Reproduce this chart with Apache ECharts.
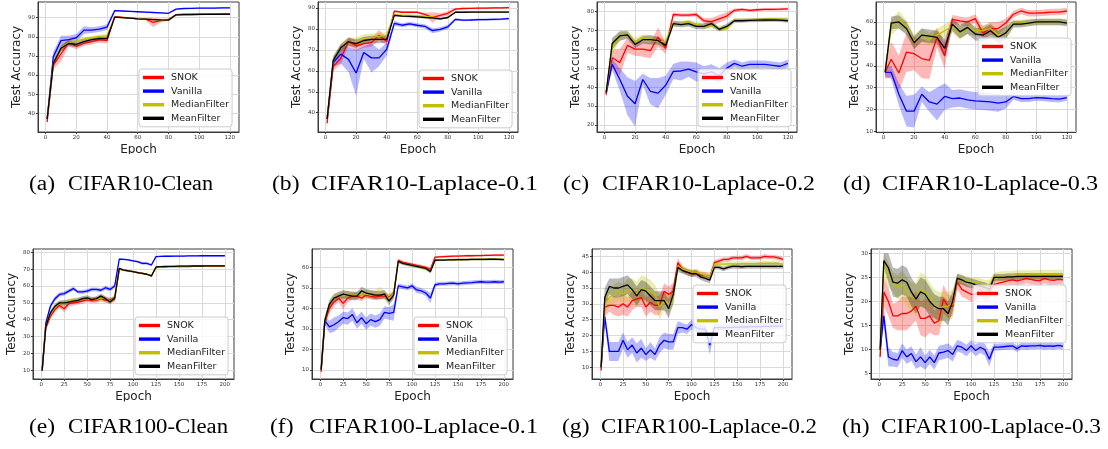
<!DOCTYPE html>
<html><head><meta charset="utf-8">
<script src="https://cdn.jsdelivr.net/npm/echarts@6/dist/echarts.min.js"></script>
<style>html,body{margin:0;padding:0;background:#fff}#c{width:1108px;height:449px}</style>
</head><body><div id="c"></div>
<script>
// ---------- epochs / tick labels ----------
const EP10 = [1,5,10,15,20,25,30,35,40,45,50,55,60,65,70,75,80,85,90,95,100,105,110,115,120];
const EP100 = [1,5,10,15,20,25,30,35,40,45,50,55,60,65,70,75,80,85,90,95,100,105,110,115,120,125,130,135,140,145,150,155,160,165,170,175,180,185,190,195,200];
const X10_TICKS = [0,20,40,60,80,100,120];
const X100_TICKS = [0,25,50,75,100,125,150,175,200];
const A_YTICKS = [40,50,60,70,80,90];
const B_YTICKS = [40,50,60,70,80,90];
const C_YTICKS = [20,30,40,50,60,70,80];
const D_YTICKS = [10,20,30,40,50,60];
const E_YTICKS = [10,20,30,40,50,60,70,80];
const F_YTICKS = [10,20,30,40,50,60];
const G_YTICKS = [10,15,20,25,30,35,40,45];
const H_YTICKS = [5,10,15,20,25,30];

const METHODS = ['SNOK','Vanilla','MedianFilter','MeanFilter'];
const CAPTIONS = [['(a)','CIFAR10-Clean'],['(b)','CIFAR10-Laplace-0.1'],['(c)','CIFAR10-Laplace-0.2'],['(d)','CIFAR10-Laplace-0.3'],
                  ['(e)','CIFAR100-Clean'],['(f)','CIFAR100-Laplace-0.1'],['(g)','CIFAR100-Laplace-0.2'],['(h)','CIFAR100-Laplace-0.3']];

// ---------- (a) CIFAR10-Clean ----------
const a_snok    = [35.5,65,71,77,75,76.5,77.5,78.5,78,90.5,90.2,89.8,89.5,89.3,87.5,88.5,89,91.6,91.8,91.9,91.9,92,92,92,92];
const a_snok_sd = [2,2,4,2,1.5,1.2,1.5,1.5,1.5,0.5,0.4,0.4,0.4,0.5,2.5,1,0.6,0.3,0.3,0.3,0.3,0.3,0.3,0.3,0.3];
const a_van     = [37,69.5,78,78.5,79.5,83.5,83.5,84,85,93.7,93.5,93.3,93.1,92.9,92.7,92.5,92.3,94.5,94.8,94.9,95,95,95,95.1,95.1];
const a_van_sd  = [2,2.5,2.5,2,2,2,1.5,1.5,1.5,0.4,0.3,0.3,0.3,0.3,0.3,0.3,0.3,0.3,0.3,0.3,0.3,0.3,0.3,0.3,0.3];
const a_med     = [37,66,74,77,78,78.8,79.5,80.2,80.5,90.3,90,89.8,89.5,89.3,89,88.8,88.6,91.4,91.5,91.6,91.6,91.7,91.7,91.8,91.8];
const a_med_sd  = [1.5,1.5,1.5,1.2,1,1,1,1,1,0.4,0.3,0.3,0.3,0.3,0.3,0.3,0.3,0.3,0.3,0.3,0.3,0.3,0.3,0.3,0.3];
const a_mean    = [37,66,74,76.5,76,77.5,78.5,79,79,90.3,90,89.8,89.4,89.2,89,88.8,88.7,91.5,91.6,91.6,91.7,91.7,91.7,91.8,91.8];
const a_mean_sd = [1.5,1.5,1.5,1.5,1.5,1.2,1.2,1.2,1.2,0.4,0.3,0.3,0.3,0.3,0.3,0.3,0.3,0.3,0.3,0.3,0.3,0.3,0.3,0.3,0.3];

// ---------- (b) CIFAR10-Laplace-0.1 ----------
const b_snok    = [35,62,66,74,72,73,73.5,77,74,88.5,88,88,88,87,85.5,86.5,87.5,89.5,89.8,89.9,90,90,90.1,90.1,90.2];
const b_snok_sd = [2,2,3,2,2.5,2,2,2.5,2,0.6,0.5,0.5,0.5,0.8,2.5,1,1,0.5,0.4,0.4,0.4,0.4,0.4,0.4,0.4];
const b_van     = [37,64,68,65.5,59,68.8,66.2,66.2,70.3,82.7,81.8,82.5,81.8,81.3,79.2,79.8,81,84.6,84.2,84.3,84.5,84.5,84.6,84.7,85];
const b_van_sd  = [2,2,4.5,6,11,3,7,4,3,1.2,1,1,1,1,1.2,1,1,0.6,0.5,0.5,0.5,0.5,0.5,0.5,0.5];
const b_med     = [37,65,71,74,74,75.5,76,76.5,77,87,86.5,86.5,86.3,86,85.8,85,85.5,88,88.1,88.2,88.2,88.2,88.2,88.2,88.2];
const b_med_sd  = [1.5,2,2,2,2,2,1.8,1.8,1.5,0.5,0.5,0.5,0.5,0.5,0.5,0.5,0.5,0.4,0.3,0.3,0.3,0.3,0.3,0.3,0.3];
const b_mean    = [37,65,71,74,73,74.5,75,75,75,86.5,86.2,86,85.8,85.5,85.3,84.8,85.5,88,88,88.1,88.1,88.1,88.1,88.1,88.1];
const b_mean_sd = [1.5,2,2,2,2,1.8,1.8,1.8,1.5,0.5,0.5,0.5,0.5,0.5,0.5,0.5,0.5,0.4,0.3,0.3,0.3,0.3,0.3,0.3,0.3];

// ---------- (c) CIFAR10-Laplace-0.2 ----------
const c_snok    = [36,55.5,53,62,60,60,59.2,66.4,60.4,78.3,78,78,78.3,75,74.5,76,77.5,80.5,81,80.5,80.8,81,81,81.1,81.3];
const c_snok_sd = [2,4,7,4,3.5,4,4,5,3,1,1,1,1,1.5,2,2,2,1,0.7,0.7,0.7,0.7,0.7,0.7,0.7];
const c_van     = [37,52,44,35.2,31.2,44,37.8,36.8,41,48.3,48.5,49.5,48,47,48,46,50,52.5,51,52,52,52,51.5,51,52.5];
const c_van_sd  = [2,3,6,10,12,3,7,8,5,4,5,4,5,4,4,4,3,2,2,2,2,2,2,2,2];
const c_med     = [37,61,67,68,64,66,65,64,64,73.5,73.5,74,73,72,72.5,71,71,75.5,75.5,75.5,75.5,75.8,76,75.8,75.8];
const c_med_sd  = [1.5,4,2.5,2,2,2,2,2,2,1.5,1.5,1.5,1.5,1.5,1.5,1.5,1.5,1,1,1,1,1,1,1,1];
const c_mean    = [37,63,67,67.5,62.5,65,65,64.5,62,73.5,73,73.5,72,72,73.5,70.5,72,75,75,75.2,75.3,75.4,75.5,75.3,75];
const c_mean_sd = [1.5,3,2.5,2,2,2,2.5,2,2,1.5,1.5,1.5,1.5,1.5,1.5,1,1.5,1,1,1,1,1,1,1,1];

// ---------- (d) CIFAR10-Laplace-0.3 ----------
const d_snok    = [37,43,36.7,46.2,45.5,43.3,42.5,53,44.5,61.2,60.5,60,61.5,55,57,57,59.5,63.5,65,64,64,64.2,64.5,64.5,65];
const d_snok_sd = [3,8,8,9,7.5,9,8.5,4.5,6,2,2,2,2,3,3,3,2,1.5,1.5,1.5,1.5,1.5,1.5,1.5,1.5];
const d_van     = [37,37,27,19.3,19.3,27,23.5,22.5,26,25,25.3,24.5,24,23.8,23.5,23,23.5,26,25,25,25.5,25.3,25,24.8,25.5];
const d_van_sd  = [2,3,5,7,7.5,3.5,4.5,7.5,6,4,4,4,4,4,4,4,3,1.5,1.5,1.5,1.5,1.5,1.5,1.5,1.5];
const d_med     = [37,57.5,61,58,51,54,52,54,56,58,55,57,56,56,57,54,55,59.5,59.5,60,60,60,60,60,60];
const d_med_sd  = [2,3.5,4,3,3,3,3,3,3,3,3,2.5,2.5,2.5,2.5,2.5,2.5,1.5,1.5,1.5,1.5,1.5,1.5,1.5,1.5];
const d_mean    = [37,59.5,60,57,50.5,54,53.5,53,48,59,55.5,57.5,54.5,54,56,53,55,59,59,59.5,60,60,60,60,59.5];
const d_mean_sd = [2,3,3,3,3,3,3,3,4,3,3,3,3,3,3,3,3,1.5,1.5,1.5,1.5,1.5,1.5,1.5,1.5];

// ---------- (e) CIFAR100-Clean ----------
const e_snok    = [9.5,35,42,46,48.5,46.5,49.5,50,50.5,51,52,51.5,51.5,52.5,51.5,52,52,70,69.5,69,68.5,68,67.5,67,66,71,71.3,71.4,71.5,71.5,71.6,71.6,71.6,71.7,71.7,71.7,71.7,71.8,71.8,71.8,71.8];
const e_snok_sd = [1,1.5,1.5,1.5,1.5,2,1.5,1.5,1.5,1.5,1.5,1.5,1.5,1.5,1.5,1.5,1.5,0.5,0.5,0.5,0.5,0.5,0.5,0.5,0.6,0.4,0.4,0.4,0.4,0.4,0.4,0.4,0.4,0.4,0.4,0.4,0.4,0.4,0.4,0.4,0.4];
const e_van     = [10,38,48,52.5,55,55.5,57,58.5,56.5,56.5,57,58,58,57.5,59,58,60,76,75.8,75.5,75,74.5,73.5,73.5,72.5,77.5,77.6,77.7,77.7,77.8,77.8,77.8,77.9,77.9,77.9,78,78,78,78,78,78];
const e_van_sd  = [1,1.5,1.5,1.5,1.2,1.2,1.2,1.2,1,1.2,1.2,1.2,1.2,1.2,1.2,1.2,1.2,0.5,0.5,0.5,0.5,0.6,0.8,0.8,0.8,0.4,0.4,0.4,0.4,0.4,0.4,0.4,0.4,0.4,0.4,0.4,0.4,0.4,0.4,0.4,0.4];
const e_med     = [10,36,43.5,47.5,49.5,50,51,51.5,51.5,52.5,52.5,52,52,53,52.5,51,53,70,69.5,69,68.5,68,67.5,67,66,71,71.3,71.5,71.5,71.6,71.7,71.7,71.8,71.8,71.8,71.9,71.9,72,72,72,72];
const e_med_sd  = [1,1.5,1.5,1.5,1.5,1.5,1.5,1.5,1.5,1.5,1.5,1.5,1.5,2,1.5,1.5,1.5,0.5,0.5,0.5,0.5,0.5,0.5,0.5,0.6,0.4,0.4,0.4,0.4,0.4,0.4,0.4,0.4,0.4,0.4,0.4,0.4,0.4,0.4,0.4,0.4];
const e_mean    = [10,36,44,48,50,50,50.5,51,51.5,52.5,53,52,52.5,54,52.5,50.5,53,70.5,69.5,69,68.5,68,67.5,67,66,71.3,71.5,71.6,71.7,71.7,71.8,71.8,71.8,71.9,71.9,71.9,72,72,72,72,72];
const e_mean_sd = [1,1.5,1.5,1.5,1.5,1.5,1.5,1.5,1.5,1.5,1.5,1.5,1.5,1.5,1.5,1.5,1.5,0.5,0.5,0.5,0.5,0.5,0.5,0.5,0.6,0.4,0.4,0.4,0.4,0.4,0.4,0.4,0.4,0.4,0.4,0.4,0.4,0.4,0.4,0.4,0.4];

// ---------- (f) CIFAR100-Laplace-0.1 ----------
const f_snok    = [9,33,40,43,45,42.5,45,46,46,45,46.5,46,45.5,46,46,45.5,47,63.5,62.5,62,61.5,61,60.5,60,59,65,65.2,65.3,65.4,65.5,65.5,65.6,65.7,65.7,65.8,65.8,65.9,65.9,66,66,66];
const f_snok_sd = [1,2,2.5,2,2,3,2,1.5,1.5,1.5,1.5,1.5,1.5,1.5,1.5,1.5,1.5,0.8,0.8,0.8,0.8,0.8,0.8,0.8,1,0.5,0.5,0.5,0.5,0.5,0.5,0.5,0.5,0.5,0.5,0.5,0.5,0.5,0.5,0.5,0.5];
const f_van     = [10,34,31,32,33.5,35.5,35,37,33,35.5,32.5,34.5,33.5,34.5,38,37.5,38,51,50.5,50,51,49,48.5,47.5,45,51.5,52,52,52.2,52.3,52,52.3,52.5,52.6,52.8,53,52.8,52.8,53,52.8,53];
const f_van_sd  = [1,2,3,3.5,3,3,3,3,3,3,3,3,3,3,3,3,4,1.2,1.2,1.2,1.2,1.5,1.5,1.5,2.5,1,1,1,1,1,1,1,1,1,1,1,1,1,1,1,1];
const f_med     = [10,34,42,45,46,46.5,46.5,46.5,46.5,47,47,46.5,47,47.5,46.5,45,47,63,62,61.5,61,60.5,60,59.5,58,63.5,63.6,63.7,63.7,63.8,63.8,63.8,63.9,63.9,63.9,64,64,64,64,64,64];
const f_med_sd  = [1,2,2,2,2,2,2,2,2,2,2,2,2,3,2,2,2,0.8,0.8,0.8,0.8,0.8,0.8,0.8,1,0.5,0.5,0.5,0.5,0.5,0.5,0.5,0.5,0.5,0.5,0.5,0.5,0.5,0.5,0.5,0.5];
const f_mean    = [10,34,42,45,46,47,46.5,46,46,48.5,47.5,47,46.5,46.5,47,43.5,46.5,63,62,61.5,61,60.5,60,59.5,58,63.5,63.6,63.6,63.7,63.7,63.8,63.8,63.8,63.9,63.9,63.9,63.9,64,64,63.9,63.8];
const f_mean_sd = [1,2,2,2,2,2,2,2,2,2,2,2,2,2,2,2,2,0.8,0.8,0.8,0.8,0.8,0.8,0.8,1,0.5,0.5,0.5,0.5,0.5,0.5,0.5,0.5,0.5,0.5,0.5,0.5,0.5,0.5,0.5,0.5];

// ---------- (g) CIFAR100-Laplace-0.2 ----------
const g_snok    = [9,29,29.5,29.5,29,30,29,31,31.5,32,29,30.5,29.5,29.5,34,33,34,43,41,40,39.5,40,39,39,38.5,43,43.5,44,44,44.5,44.5,44.5,45,44.5,44.5,44.5,45,44.8,44.8,44.5,44];
const g_snok_sd = [1,3,2,3,3,3.5,3,3,2.5,3,3,3,3,3,2.5,2.5,2.5,1.5,1,1,1,1,1,1,1,0.8,0.7,0.7,0.7,0.7,0.7,0.7,0.7,0.7,0.7,0.7,0.7,0.7,0.7,0.7,0.7];
const g_van     = [10,26,15,15,15,18.5,15.5,17,14.5,16,14,15.5,14,17,18.5,18,18,22.5,22.5,22,23.5,22.5,22,22,17,22.5,22.5,22.5,22.5,22.6,22.6,22.7,22.7,22.8,22.8,22.8,22.9,22.9,23,23,23];
const g_van_sd  = [1,2,3,3,3,2.5,2.5,2.5,3,3,2,2.5,2,2.5,2.5,2.5,2.5,2,1.5,1.5,1.5,1.5,1.5,1.5,3,1,1,1,1,1,1,1,1,1,1,1,1,1,1,1,1];
const g_med     = [10,30,32,33,34,33,34.5,34,33,35,34.5,33.5,33,29,31,30,32,42,41,40.5,40,40,39.5,39,38.5,42.5,42.5,42.5,42.6,42.6,42.6,42.7,42.7,42.7,42.7,42.8,42.8,42.8,42.8,42.8,42.5];
const g_med_sd  = [1,3,3,3,3,3,3.5,4,4,4,4,4,3,4,3,3,2.5,1.5,1,1,1,1,1,1,1,0.8,0.8,0.8,0.8,0.8,0.8,0.8,0.8,0.8,0.8,0.8,0.8,0.8,0.8,0.8,0.8];
const g_mean    = [10,32,35.5,35,35,35.5,36,34.5,32.5,34.5,34,32.5,31,31,31,28.5,33,41.5,40.5,40,39.5,39.5,38.5,38,37.5,41.5,41.5,41,41.5,41.8,41.8,41.7,41.8,41.8,41.8,41.8,41.8,41.8,41.8,41.8,41.8];
const g_mean_sd = [1,3,2.5,3,3,3,3,3,3,3,3,3,3,3,3,3,3,1.2,1,1,1,1,1,1,1,0.7,0.7,0.7,0.7,0.7,0.7,0.7,0.7,0.7,0.7,0.7,0.7,0.7,0.7,0.7,0.7];

// ---------- (h) CIFAR100-Laplace-0.3 ----------
const h_snok    = [8.5,22,20,17,17,17.5,17.5,18,19,16.5,16.5,17,15.5,16,20.5,19,19,24,22.5,22,21.5,21.5,22.5,21.5,22,23.5,23.8,24,24.3,24.5,24.3,24.5,24.8,24.6,24.4,24.3,24.8,24.5,24.4,24.6,24.5];
const h_snok_sd = [0.8,3,3,2.5,3,3.5,3.5,3,3,3.5,4,3.5,2.5,3,3,2.5,2,1.5,1.5,1.5,1.5,1.5,1.5,1.5,1.5,1,1,1,1,1,1,1,1,1,1,1,1,1,1,1,1];
const h_van     = [10,17,8.5,8,7.8,9.8,8.5,9.2,7.5,8.5,7.3,8.5,7.3,9.3,9.5,9.8,9,10.8,10.5,9.8,10.8,9.8,10.5,10,8,10.5,10.5,10.6,10.7,10.8,10.2,10.8,10.7,10.8,10.8,10.9,10.7,10.8,10.7,10.9,10.7];
const h_van_sd  = [1,2,2,1.5,1.5,1.5,1.5,1.5,1.5,2,1.5,1.5,1.5,1.5,1.5,1.5,1.5,1.2,1.2,1.2,1.2,1.2,1.2,1.2,1.5,0.7,0.7,0.7,0.7,0.7,0.7,0.7,0.7,0.7,0.7,0.7,0.7,0.7,0.7,0.7,0.7];
const h_med     = [10,27.5,25.5,24,23,23.5,22,21,20.5,22.5,22,21,19.5,18.5,19,19,19.5,24.5,24.5,24.3,24,24,23.8,23.5,23.5,25,25.2,25.3,25.3,25.4,25.5,25.5,25.5,25.5,25.5,25.6,25.6,25.6,25.6,25.6,25.6];
const h_med_sd  = [1,2.5,2.5,2,2.5,3,3,3,3.5,3.5,3.5,3,3,3.5,3,3,3,1.2,1,1,1,1,1,1,1,1,1,1,1,1,1,1,1,1,1,1,1,1,1,1,1];
const h_mean    = [10,28.5,27,24,23.8,24.5,24,22,20.5,22,21.5,20,19,18.5,18.5,17.5,20,24.8,24.5,24,23.8,23.5,23.2,23,22.5,25,25,25,25.1,25.1,25.2,25.2,25.2,25.2,25.2,25.2,25.2,25.2,25.2,25.2,25.2];
const h_mean_sd = [1,1.5,3,3,3,3,3,3,3,3,3,3,2.5,2.5,2.5,2.5,2,1,1,1,1,1,1,1,1,0.7,0.7,0.7,0.7,0.7,0.7,0.7,0.7,0.7,0.7,0.7,0.7,0.7,0.7,0.7,0.7];

// ---------- assembly ----------
const PANELS = [
  {ep:EP10, xt:X10_TICKS, yt:A_YTICKS, m:[[a_snok,a_snok_sd],[a_van,a_van_sd],[a_med,a_med_sd],[a_mean,a_mean_sd]]},
  {ep:EP10, xt:X10_TICKS, yt:B_YTICKS, m:[[b_snok,b_snok_sd],[b_van,b_van_sd],[b_med,b_med_sd],[b_mean,b_mean_sd]]},
  {ep:EP10, xt:X10_TICKS, yt:C_YTICKS, m:[[c_snok,c_snok_sd],[c_van,c_van_sd],[c_med,c_med_sd],[c_mean,c_mean_sd]]},
  {ep:EP10, xt:X10_TICKS, yt:D_YTICKS, m:[[d_snok,d_snok_sd],[d_van,d_van_sd],[d_med,d_med_sd],[d_mean,d_mean_sd]]},
  {ep:EP100, xt:X100_TICKS, yt:E_YTICKS, m:[[e_snok,e_snok_sd],[e_van,e_van_sd],[e_med,e_med_sd],[e_mean,e_mean_sd]]},
  {ep:EP100, xt:X100_TICKS, yt:F_YTICKS, m:[[f_snok,f_snok_sd],[f_van,f_van_sd],[f_med,f_med_sd],[f_mean,f_mean_sd]]},
  {ep:EP100, xt:X100_TICKS, yt:G_YTICKS, m:[[g_snok,g_snok_sd],[g_van,g_van_sd],[g_med,g_med_sd],[g_mean,g_mean_sd]]},
  {ep:EP100, xt:X100_TICKS, yt:H_YTICKS, m:[[h_snok,h_snok_sd],[h_van,h_van_sd],[h_med,h_med_sd],[h_mean,h_mean_sd]]}
];

// layout (pixels / axis extents)
const LAYOUT = [
  {l:38,  t:2,   w:201, h:130, xmin:-4.95, xmax:125.95, ymin:30.2, ymax:98.2, lgx:139, lgy:69},
  {l:318, t:2,   w:200, h:130, xmin:-4.95, xmax:125.95, ymin:30.8, ymax:92.9, lgx:419, lgy:70},
  {l:597, t:2,   w:200, h:130, xmin:-4.95, xmax:125.95, ymin:16.3, ymax:84.9, lgx:698, lgy:69},
  {l:876, t:2,   w:200, h:130, xmin:-4.95, xmax:125.95, ymin:9.8,  ymax:69.1, lgx:978, lgy:38},
  {l:33,  t:249, w:201, h:130, xmin:-8.95, xmax:209.95, ymin:4.8,  ymax:82,   lgx:135, lgy:317},
  {l:312, t:249, w:201, h:130, xmin:-8.95, xmax:209.95, ymin:5.5,  ymax:69,   lgx:414, lgy:317},
  {l:592, t:249, w:200, h:130, xmin:-8.95, xmax:209.95, ymin:6.3,  ymax:47.3, lgx:693, lgy:285},
  {l:871, t:249, w:201, h:130, xmin:-8.95, xmax:209.95, ymin:3.9,  ymax:30.9, lgx:973, lgy:285}
];
// caption: label start x, name start x, name end x, centre y
const CAP_L  = [29, 272, 563, 843, 29, 270, 562, 842];
const CAP_S  = [68, 311, 602, 882, 68, 309, 601, 881];
const CAP_E  = [213, 538, 815, 1098, 228, 538, 817, 1101];
const CAP_Y  = [185, 185, 185, 185, 428, 428, 428, 428];
const CAP_FONT = '20.5px "Liberation Serif"';

const COLORS = ['#ff0000','#0000ff','#bfbf00','#000000'];
const BANDS = ['rgba(255,0,0,0.28)','rgba(0,0,255,0.28)','rgba(191,191,0,0.3)','rgba(0,0,0,0.28)'];
const AX = '#3a3a3a';
const TICKFONT = {fontSize:5.5, color:'#333', fontFamily:'DejaVu Sans'};

const measureCtx = document.createElement('canvas').getContext('2d');
measureCtx.font = CAP_FONT;

const option = {animation:false, backgroundColor:'#ffffff', grid:[], xAxis:[], yAxis:[], legend:[], series:[], graphic:[]};

PANELS.forEach(function(p, i){
  const L = LAYOUT[i];
  option.grid.push({left:L.l, top:L.t, width:L.w, height:L.h, show:true, borderColor:AX, borderWidth:1, containLabel:false});
  option.xAxis.push({gridIndex:i, type:'value', min:L.xmin, max:L.xmax,
    axisLine:{show:true, onZero:false, lineStyle:{color:AX, width:1}},
    axisTick:{show:true, length:2, customValues:p.xt, lineStyle:{color:AX}},
    axisLabel:Object.assign({customValues:p.xt, margin:3}, TICKFONT),
    splitLine:{show:true, lineStyle:{color:'#dadada', width:1}}});
  option.yAxis.push({gridIndex:i, type:'value', min:L.ymin, max:L.ymax,
    axisLine:{show:true, onZero:false, lineStyle:{color:AX, width:1}},
    axisTick:{show:true, length:2, customValues:p.yt, lineStyle:{color:AX}},
    axisLabel:Object.assign({customValues:p.yt, margin:3}, TICKFONT),
    splitLine:{show:true, lineStyle:{color:'#dadada', width:1}}});

  p.m.forEach(function(pair, k){
    const mean = pair[0], sd = pair[1];
    const rows = p.ep.map(function(x, j){ return [x, mean[j] - sd[j], mean[j] + sd[j]]; });
    option.series.push({
      type:'custom', name:METHODS[k] + ' band', xAxisIndex:i, yAxisIndex:i, silent:true, z:2,
      data:rows, encode:{x:0, y:[1,2]},
      renderItem:(function(rows, fill){ return function(params, api){
        if (params.dataIndex !== 0) return null;
        const pts = [];
        for (let j = 0; j < rows.length; j++) pts.push(api.coord([rows[j][0], rows[j][1]]));
        for (let j = rows.length - 1; j >= 0; j--) pts.push(api.coord([rows[j][0], rows[j][2]]));
        return {type:'polygon', shape:{points:pts}, style:{fill:fill}};
      };})(rows, BANDS[k])
    });
    option.series.push({
      type:'line', name:METHODS[k], xAxisIndex:i, yAxisIndex:i, z:2,
      data:p.ep.map(function(x, j){ return [x, mean[j]]; }),
      showSymbol:false, symbol:'none',
      lineStyle:{width:1.3, color:COLORS[k]}, itemStyle:{color:COLORS[k]}
    });
  });

  option.legend.push({
    left:L.lgx, top:L.lgy, orient:'vertical', selectedMode:false,
    data:METHODS.slice(), icon:'rect', itemWidth:21, itemHeight:3.4, itemGap:2.6,
    padding:[3,3,3,4], backgroundColor:'rgba(255,255,255,0.8)', borderColor:'#cccccc', borderWidth:1, borderRadius:3,
    textStyle:{fontSize:9.5, fontFamily:'DejaVu Sans', color:'#222', lineHeight:11, padding:[0,0,0,2]}
  });

  // axis titles
  option.graphic.push({type:'text', x:L.l - 20.7, y:L.t + L.h/2, rotation:Math.PI/2, z:50,
    style:{text:'Test Accuracy', font:'12px "DejaVu Sans"', fill:'#222', align:'center', verticalAlign:'middle'}});
  option.graphic.push({type:'text', x:L.l + L.w/2, y:L.t + L.h + 18, z:50,
    style:{text:'Epoch', font:'12px "DejaVu Sans"', fill:'#222', align:'center', verticalAlign:'middle'}});

  // captions
  const nameW = measureCtx.measureText(CAPTIONS[i][1]).width;
  const sx = (CAP_E[i] - CAP_S[i]) / nameW;
  option.graphic.push({type:'text', x:CAP_L[i], y:CAP_Y[i], scaleX:1.15, z:50,
    style:{text:CAPTIONS[i][0], font:CAP_FONT, fill:'#000', align:'left', verticalAlign:'middle'}});
  option.graphic.push({type:'text', x:CAP_S[i], y:CAP_Y[i], scaleX:sx, z:50,
    style:{text:CAPTIONS[i][1], font:CAP_FONT, fill:'#000', align:'left', verticalAlign:'middle'}});
});

// the x-axis titles are cropped at their baseline in the reference
option.graphic.push({type:'rect', shape:{x:0, y:154, width:1108, height:9}, style:{fill:'#ffffff'}, z:60});
option.graphic.push({type:'rect', shape:{x:0, y:401.5, width:1108, height:8}, style:{fill:'#ffffff'}, z:60});

const chart = echarts.init(document.getElementById('c'), null, {renderer:'canvas'});
chart.setOption(option);
</script>
</body></html>
